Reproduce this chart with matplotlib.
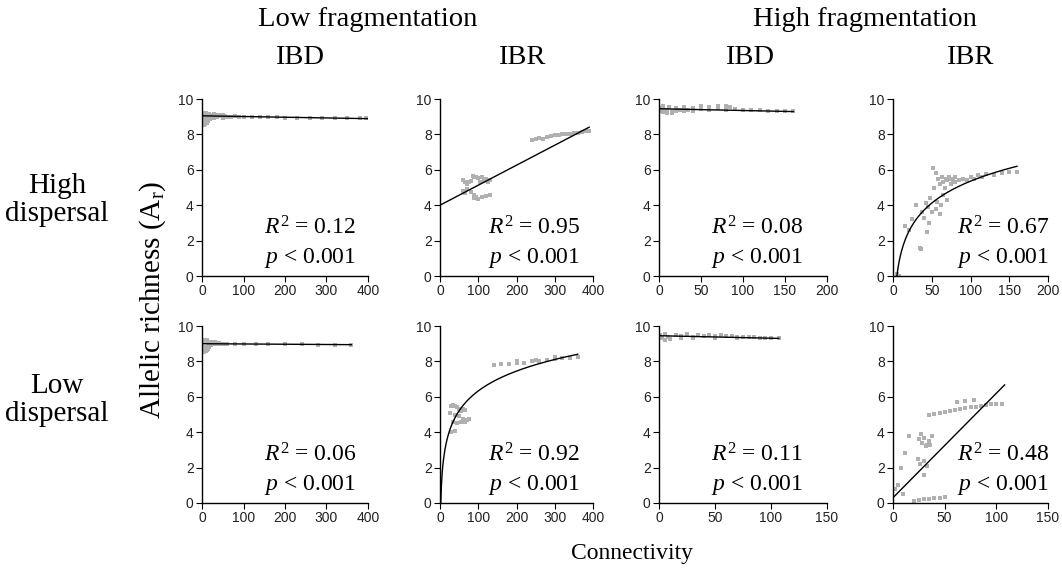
import numpy as np
import matplotlib
matplotlib.use("Agg")
import matplotlib.pyplot as plt

plt.rcParams['mathtext.fontset'] = 'custom'
plt.rcParams['mathtext.rm'] = 'Liberation Serif'
plt.rcParams['mathtext.it'] = 'Liberation Serif:italic'

serif = 'Liberation Serif'
sans = 'Liberation Sans'

# ---- data ----
# high dispersal, low fragmentation, IBD
a_x = [1, 2, 3, 4, 5, 6, 8, 10, 12, 14, 16, 18, 20, 24, 28, 32, 36, 40, 45, 50, 55, 60, 70, 80, 90, 100,
       120, 140, 160, 180, 200, 230, 260, 290, 320, 350, 380, 395, 5, 8, 12, 15, 20, 25, 10, 30, 40, 50]
a_y = [8.9, 9.1, 8.7, 9.0, 8.6, 9.2, 8.8, 9.1, 8.7, 9.0, 9.15, 8.9, 9.05, 9.1, 8.95, 9.1, 9.0, 9.05, 9.1, 8.95,
       9.05, 9.0, 8.98, 9.02, 8.98, 9.0, 8.97, 8.98, 8.96, 8.97, 8.95, 8.95, 8.94, 8.93, 8.92, 8.92, 8.91, 8.9,
       8.55, 8.6, 8.65, 8.75, 8.85, 8.9, 9.2, 9.15, 9.1, 9.1]
a_fit = (9.05, -0.0004)      # intercept, slope
a_xmax = 400

# high dispersal, low fragmentation, IBR
b_x = [60, 65, 70, 75, 80, 90, 100, 110, 120, 85, 95, 105, 115, 125, 130, 60, 65, 70, 80, 90,
       90, 95, 100, 110, 120, 130, 240, 250, 260, 270, 280, 290, 300, 310, 320, 330, 340, 350, 360, 370, 380, 390]
b_y = [5.4, 5.3, 5.2, 5.3, 5.35, 5.6, 5.55, 5.6, 5.5, 5.65, 5.6, 5.3, 5.35, 5.3, 5.4, 4.8, 4.7, 4.9, 4.75, 4.6,
       4.4, 4.45, 4.35, 4.45, 4.5, 4.55, 7.7, 7.75, 7.8, 7.75, 7.85, 7.9, 7.95, 7.95, 8.0, 8.05, 8.05, 8.1, 8.1, 8.15, 8.2, 8.2]
b_fit = (4.0, 0.0113)
b_xmax = 390

# high dispersal, high fragmentation, IBD
c_x = [1, 3, 5, 7, 9, 12, 15, 20, 25, 30, 35, 40, 50, 60, 70, 80, 90, 100, 110, 120, 130, 140, 150, 160,
       5, 10, 15, 20, 30, 40, 60, 80, 50, 70, 85]
c_y = [9.5, 9.3, 9.6, 9.4, 9.2, 9.55, 9.35, 9.5, 9.4, 9.55, 9.4, 9.5, 9.45, 9.55, 9.5, 9.6, 9.45, 9.4, 9.38, 9.37,
       9.35, 9.33, 9.32, 9.3, 9.25, 9.3, 9.2, 9.35, 9.3, 9.35, 9.4, 9.4, 9.6, 9.6, 9.55]
c_fit = (9.45, -0.001)
c_xmax = 160

# high dispersal, high fragmentation, IBR
d_x = [5, 8, 15, 20, 25, 30, 35, 36, 38, 40, 42, 45, 48, 50, 52, 53, 55, 55, 57, 58, 60, 60, 62, 63, 65, 65,
       67, 68, 70, 70, 72, 75, 75, 78, 80, 80, 85, 90, 95, 100, 105, 110, 115, 120, 130, 140, 150, 160, 44, 46]
d_y = [0.1, 0.0, 2.8, 2.6, 3.2, 4.0, 1.6, 1.5, 3.6, 3.3, 4.1, 3.9, 4.4, 3.6, 6.1, 5.0, 5.8, 3.8, 4.2, 5.5, 3.5,
       5.2, 4.0, 5.6, 4.6, 5.3, 5.0, 5.5, 4.3, 5.4, 5.6, 5.2, 5.5, 5.4, 5.6, 5.3, 5.4, 5.5, 5.45, 5.6, 5.5, 5.7,
       5.6, 5.75, 5.7, 5.8, 5.85, 5.85, 2.5, 3.0]
d_fit = (-2.88, 1.789)       # a + b*ln(x)
d_xrange = (5, 160)

# low dispersal, low fragmentation, IBD
e_x = [1, 2, 3, 5, 6, 8, 10, 12, 14, 16, 18, 20, 24, 28, 32, 36, 40, 45, 50, 60, 80, 100, 130, 160, 200,
       240, 280, 320, 360, 6, 10, 14, 18, 22, 8, 12]
e_y = [9.0, 8.7, 9.1, 8.6, 9.15, 8.8, 9.1, 8.65, 9.05, 9.1, 8.9, 9.05, 9.1, 9.0, 9.08, 9.0, 9.05, 9.0, 9.0,
       8.98, 9.0, 8.98, 8.97, 8.97, 8.96, 8.96, 8.95, 8.95, 8.95, 8.55, 8.6, 8.7, 8.8, 8.9, 9.2, 9.2]
e_fit = (9.0, -0.00015)
e_xmax = 360

# low dispersal, low fragmentation, IBR
f_x = [30, 35, 40, 45, 50, 55, 60, 65, 25, 40, 50, 60, 70, 75, 35, 45, 55, 65, 30, 40,
       140, 160, 180, 200, 220, 240, 260, 280, 300, 320, 340, 360, 200, 250, 300]
f_y = [5.5, 5.55, 5.5, 5.45, 5.3, 5.2, 5.3, 5.25, 5.1, 5.0, 4.9, 4.75, 4.7, 4.75, 4.6, 4.5, 4.55, 4.6, 4.0, 4.05,
       7.8, 7.85, 7.85, 7.9, 7.9, 8.0, 8.05, 8.1, 8.15, 8.2, 8.2, 8.25, 8.0, 8.1, 8.25]
f_fit = (-1.12, 1.618)
f_xrange = (2, 360)

# low dispersal, high fragmentation, IBD
g_x = [1, 3, 5, 8, 10, 15, 20, 25, 30, 35, 40, 45, 50, 55, 60, 65, 70, 75, 80, 85, 90, 95, 100, 107,
       5, 10, 20, 30, 50, 70]
g_y = [9.5, 9.3, 9.55, 9.4, 9.25, 9.5, 9.45, 9.55, 9.4, 9.5, 9.45, 9.5, 9.45, 9.5, 9.42, 9.45, 9.4, 9.4,
       9.38, 9.37, 9.35, 9.33, 9.32, 9.3, 9.2, 9.25, 9.3, 9.3, 9.35, 9.35]
g_fit = (9.45, -0.0014)
g_xmax = 107

# low dispersal, high fragmentation, IBR
h_x = [35, 40, 45, 50, 55, 60, 65, 70, 75, 80, 85, 90, 95, 100, 105, 62, 70, 78,
       25, 28, 30, 33, 35, 38, 27, 32, 36, 26, 30, 33, 20, 25, 30, 35, 40, 45, 50,
       5, 8, 10, 15, 30, 2, 12, 24]
h_y = [5.0, 5.05, 5.1, 5.15, 5.2, 5.25, 5.3, 5.35, 5.4, 5.45, 5.5, 5.55, 5.6, 5.6, 5.6, 5.7, 5.75, 5.8,
       3.6, 3.4, 3.7, 3.3, 3.5, 3.8, 3.9, 3.2, 3.3, 2.2, 2.4, 2.1, 0.1, 0.15, 0.2, 0.25, 0.3, 0.3, 0.35,
       1.0, 2.0, 0.5, 3.8, 1.6, 0.8, 2.8, 2.5]
h_fit = (0.3, 0.059)
h_xmax = 108

r2_labels = ["0.12", "0.95", "0.08", "0.67", "0.06", "0.92", "0.11", "0.48"]
x_limits = [400, 400, 200, 200, 400, 400, 150, 150]
x_steps = [100, 100, 50, 50, 100, 100, 50, 50]

W, H = 1062, 572
fig = plt.figure(figsize=(W / 100, H / 100), dpi=100)

lefts = [202, 440, 659, 893]
widths = [166, 153, 168, 155]
tops = [99, 326]
ph = 177

r2_xfrac = [0.93, 0.915, 0.857, 1.01]

panels = [
    (a_x, a_y, 'lin', a_fit, (0, a_xmax)),
    (b_x, b_y, 'lin', b_fit, (0, b_xmax)),
    (c_x, c_y, 'lin', c_fit, (0, c_xmax)),
    (d_x, d_y, 'log', d_fit, d_xrange),
    (e_x, e_y, 'lin', e_fit, (0, e_xmax)),
    (f_x, f_y, 'log', f_fit, f_xrange),
    (g_x, g_y, 'lin', g_fit, (0, g_xmax)),
    (h_x, h_y, 'lin', h_fit, (0, h_xmax)),
]

for i, (px, py, kind, fit, xr) in enumerate(panels):
    row, col = divmod(i, 4)
    ax = fig.add_axes([lefts[col] / W, 1 - (tops[row] + ph) / H, widths[col] / W, ph / H])
    ax.scatter(px, py, s=10, marker='s', color='#b0b0b0', linewidths=0, zorder=2)
    xs = np.linspace(xr[0], xr[1], 200)
    if kind == 'lin':
        ys = fit[0] + fit[1] * xs
    else:
        ys = fit[0] + fit[1] * np.log(xs)
    ax.plot(xs, ys, color='black', lw=1.0, zorder=3)

    ax.set_xlim(0, x_limits[i])
    ax.set_ylim(0, 10)
    ax.set_xticks(np.arange(0, x_limits[i] + 1, x_steps[i]))
    ax.set_yticks(range(0, 11, 2))
    for s in ['top', 'right']:
        ax.spines[s].set_visible(False)
    for s in ['left', 'bottom']:
        ax.spines[s].set_linewidth(1.0)
    ax.tick_params(direction='out', length=4, width=0.8, labelsize=10, pad=2, labelcolor='#222222')
    for lab in ax.get_xticklabels() + ax.get_yticklabels():
        lab.set_family(sans)

    ax.text(r2_xfrac[col], 0.27, r"$R^2$ = " + r2_labels[i], transform=ax.transAxes,
            ha='right', va='center', fontsize=17, family=serif)
    ax.text(r2_xfrac[col], 0.10, r"$p$ < 0.001", transform=ax.transAxes,
            ha='right', va='center', fontsize=17, family=serif)

# headers
fig.text(368 / W, 1 - 20 / H, "Low fragmentation", ha='center', va='center', fontsize=20.5, family=serif)
fig.text(865 / W, 1 - 20 / H, "High fragmentation", ha='center', va='center', fontsize=20.5, family=serif)
for xc, t in zip([300, 522, 750, 970], ["IBD", "IBR", "IBD", "IBR"]):
    fig.text(xc / W, 1 - 57 / H, t, ha='center', va='center', fontsize=20.5, family=serif)

fig.text(57 / W, 1 - 200 / H, "High\ndispersal", ha='center', va='center', fontsize=21,
         family=serif, linespacing=1.1)
fig.text(57 / W, 1 - 400 / H, "Low\ndispersal", ha='center', va='center', fontsize=21,
         family=serif, linespacing=1.1)

fig.text(153 / W, 1 - 300 / H, r"Allelic richness (A$_\mathrm{r}$)", rotation=90, ha='center', va='center',
         fontsize=21, family=serif)
fig.text(632 / W, 1 - 553 / H, "Connectivity", ha='center', va='center', fontsize=17, family=serif)

fig.savefig("out.png", dpi=100)
